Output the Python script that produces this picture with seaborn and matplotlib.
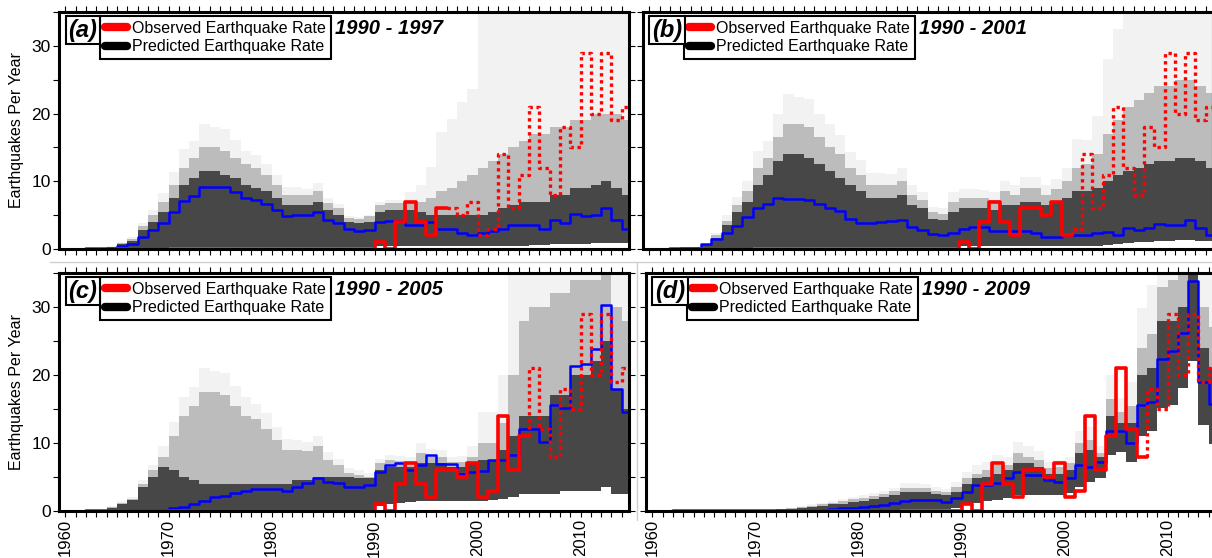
import numpy as np
import matplotlib
matplotlib.use("Agg")
import matplotlib.pyplot as plt
import seaborn as sns
from matplotlib.lines import Line2D
from matplotlib.ticker import MultipleLocator

sns.set_theme(style="ticks")
plt.rcParams["font.family"] = ["Liberation Sans", "DejaVu Sans"]
plt.rcParams["text.color"] = "black"
plt.rcParams["axes.labelcolor"] = "black"

# ---------------- data ----------------
years = np.arange(1960, 2015)

observed = [0, 0, 0, 0, 0, 0, 0, 0, 0, 0,
            0, 0, 0, 0, 0, 0, 0, 0, 0, 0,
            0, 0, 0, 0, 0, 0, 0, 0, 0, 0,
            1, 0, 4, 7, 4, 2, 6, 6, 5, 7,
            2, 3, 14, 6, 11, 21, 12, 8, 18, 15,
            29, 20, 29, 19, 21]
observed_start = 1962

titles = ["1990 - 1997", "1990 - 2001", "1990 - 2005", "1990 - 2009"]
panel_labels = ["(a)", "(b)", "(c)", "(d)"]
first_forecast_year = [1997, 2001, 2005, 2008]

# median predicted rate (blue)
median_a = [0, 0, 0, 0, 0.15, 0.45, 0.7, 1.7, 2.8, 3.9,
            5.4, 7.1, 7.8, 9.1, 9.1, 9.1, 8.4, 7.6, 7.3, 6.7,
            5.8, 4.8, 5.0, 5.0, 5.4, 4.3, 3.8, 2.9, 2.6, 2.8,
            4.0, 4.2, 4.2, 3.5, 3.5, 4.0, 3.0, 3.0, 2.4, 2.1,
            2.4, 2.7, 2.9, 3.5, 3.5, 3.5, 2.9, 4.3, 3.8, 5.2,
            4.8, 5.0, 6.0, 4.3, 2.9]
median_b = [0, 0, 0.05, 0.1, 0.2, 0.7, 1.5, 2.3, 3.4, 4.7,
            6.0, 6.6, 7.5, 7.4, 7.4, 7.3, 6.6, 6.0, 5.6, 4.5,
            3.9, 3.9, 4.0, 4.2, 4.3, 3.2, 2.8, 2.2, 2.0, 2.3,
            3.0, 3.3, 3.3, 2.6, 2.6, 2.6, 2.6, 2.3, 1.8, 1.8,
            2.1, 2.1, 2.1, 2.35, 2.5, 2.1, 3.1, 2.8, 3.1, 3.75,
            3.5, 3.6, 4.25, 3.1, 2.1]
median_c = [0, 0, 0, 0, 0.02, 0.05, 0.08, 0.1, 0.12, 0.15,
            0.4, 0.64, 1.03, 1.5, 2.0, 2.2, 2.6, 3.0, 3.2, 3.2,
            3.2, 3.0, 3.5, 4.1, 4.8, 4.2, 4.1, 3.6, 3.5, 3.8,
            5.7, 6.7, 7.0, 6.0, 6.8, 8.3, 6.9, 6.9, 5.5, 5.8,
            5.9, 7.5, 7.5, 8.3, 12.0, 12.0, 10.2, 15.6, 15.2, 21.3,
            21.6, 23.8, 30.3, 17.9, 14.5]
median_d = [0, 0, 0, 0, 0, 0.02, 0.02, 0.03, 0.03, 0.04,
            0.05, 0.06, 0.08, 0.1, 0.12, 0.15, 0.2, 0.3, 0.4, 0.5,
            0.6, 0.7, 0.9, 1.2, 1.4, 1.6, 1.6, 1.6, 1.3, 1.9,
            2.85, 3.8, 3.8, 4.1, 4.8, 5.7, 5.3, 5.3, 4.6, 4.3,
            4.8, 6.8, 6.4, 7.25, 11.8, 11.8, 10.0, 15.6, 16.1, 22.4,
            23.5, 26.2, 33.8, 18.9, 15.8]

# ensemble spread (grey): lowest, dense core top, moderate top, faint max
low_a = [0, 0, 0, 0, 0, 0, 0, 0, 0.1, 0.2,
         0.3, 0.3, 0.3, 0.3, 0.3, 0.3, 0.3, 0.3, 0.3, 0.3,
         0.3, 0.3, 0.3, 0.3, 0.3, 0.3, 0.3, 0.3, 0.3, 0.3,
         0.4, 0.4, 0.4, 0.4, 0.4, 0.4, 0.4, 0.4, 0.4, 0.4,
         0.4, 0.4, 0.4, 0.5, 0.5, 0.6, 0.6, 0.7, 0.7, 0.8,
         0.8, 0.9, 0.9, 0.9, 0.9]
core_a = [0, 0, 0, 0, 0.3, 0.7, 1.2, 2.8, 4.0, 5.5,
          7.5, 9.5, 10.5, 11.5, 11.5, 11.0, 10.5, 9.5, 9.0, 8.5,
          7.5, 6.5, 6.5, 6.5, 7.0, 5.8, 5.0, 4.0, 3.8, 4.0,
          5.5, 5.8, 5.8, 5.8, 5.5, 5.0, 5.0, 5.0, 5.0, 5.0,
          5.0, 5.5, 6.0, 6.5, 7.0, 7.0, 7.0, 8.0, 8.0, 9.0,
          9.0, 9.5, 10.0, 9.0, 8.0]
mid_a = [0, 0, 0, 0, 0.35, 0.9, 1.5, 3.4, 5.0, 7.0,
         9.5, 12.0, 13.5, 15.0, 15.0, 14.5, 13.5, 12.5, 12.0, 11.0,
         9.5, 8.0, 8.0, 8.0, 8.5, 6.8, 6.0, 4.6, 4.5, 4.8,
         6.5, 6.8, 6.8, 7.0, 7.0, 7.5, 8.5, 9.0, 10.0, 11.0,
         12, 13, 14, 15, 16, 17, 17, 18, 18, 19,
         19, 20, 20, 20, 19]
top_a = [0, 0, 0, 0, 0.4, 1.0, 1.7, 3.9, 5.8, 8.3,
         11.4, 14.7, 16.0, 18.4, 18.0, 17.7, 16.1, 14.5, 13.9, 12.6,
         10.9, 9.2, 9.1, 8.8, 9.8, 7.5, 6.6, 4.9, 4.7, 5.0,
         7.0, 7.3, 7.2, 8.4, 9.4, 12.1, 17.3, 19.2, 21.7, 23.6,
         40, 40, 40, 40, 40, 40, 40, 40, 40, 40,
         40, 40, 40, 40, 40]

low_b = [0, 0, 0, 0, 0, 0, 0, 0, 0.1, 0.2,
         0.3, 0.3, 0.3, 0.3, 0.3, 0.3, 0.3, 0.3, 0.3, 0.3,
         0.3, 0.3, 0.3, 0.3, 0.3, 0.3, 0.3, 0.3, 0.3, 0.3,
         0.4, 0.4, 0.4, 0.4, 0.4, 0.4, 0.4, 0.4, 0.4, 0.4,
         0.4, 0.4, 0.5, 0.5, 0.6, 0.7, 0.9, 1.0, 1.1, 1.2,
         1.2, 1.3, 1.3, 1.2, 1.2]
core_b = [0, 0, 0, 0, 0.2, 0.6, 1.6, 3.5, 5.5, 7.0,
          9.5, 11.0, 13.0, 14.0, 14.0, 13.5, 12.5, 11.5, 10.5, 9.5,
          8.5, 7.5, 7.5, 7.5, 8.0, 6.5, 6.0, 4.5, 4.3, 5.5,
          6.0, 6.0, 6.0, 5.8, 6.5, 6.5, 7.0, 7.0, 6.5, 7.0,
          7.5, 8.5, 8.5, 9.0, 10.0, 11.0, 11.5, 12.0, 12.5, 13.0,
          13.0, 13.5, 13.5, 13.0, 12.0]
mid_b = [0, 0, 0, 0, 0.25, 0.7, 2.0, 4.2, 6.5, 8.5,
         12.0, 13.5, 16.5, 18.5, 18.5, 18.0, 16.5, 15.0, 14.0, 12.0,
         11.0, 9.5, 9.5, 9.5, 10.0, 8.0, 7.2, 5.5, 5.2, 7.0,
         7.5, 7.5, 7.5, 7.2, 8.5, 8.0, 9.0, 9.0, 8.0, 8.8,
         10.0, 12.0, 12.5, 14.0, 17.0, 19.0, 21.0, 22.0, 23.0, 24.0,
         24, 25, 25, 24, 23]
top_b = [0, 0, 0, 0, 0.3, 0.8, 2.3, 5.0, 7.7, 10.1,
         14.5, 16.0, 20.0, 22.9, 22.5, 22.2, 19.9, 18.5, 16.8, 14.3,
         13.1, 11.2, 11.2, 11.1, 11.9, 9.4, 8.4, 6.2, 6.0, 8.4,
         8.9, 8.9, 8.7, 8.4, 10.1, 9.4, 10.6, 10.6, 9.4, 10.4,
         11.9, 16.3, 16.1, 19.7, 28.0, 32.5, 40, 40, 40, 40,
         40, 40, 40, 40, 40]

low_c = [0, 0, 0, 0, 0, 0, 0, 0, 0, 0,
         0, 0, 0, 0, 0, 0, 0, 0, 0, 0,
         0.1, 0.1, 0.1, 0.1, 0.1, 0.1, 0.1, 0.1, 0.1, 0.1,
         0.8, 1.0, 1.2, 1.3, 1.4, 1.5, 1.5, 1.5, 1.5, 1.5,
         1.5, 1.6, 1.8, 2.0, 2.5, 2.5, 2.5, 2.5, 3.0, 3.0,
         3.0, 3.0, 3.5, 2.5, 2.5]
core_c = [0, 0, 0, 0, 0.5, 1.0, 1.6, 3.5, 5.0, 6.5,
          6.0, 5.0, 4.5, 4.0, 4.0, 4.0, 4.0, 4.0, 4.0, 4.0,
          4.0, 4.0, 4.5, 4.5, 5.0, 5.0, 5.0, 5.0, 4.8, 4.8,
          6.0, 6.5, 6.5, 6.5, 7.0, 7.0, 7.0, 6.5, 6.5, 7.0,
          7.5, 7.5, 9.0, 11.0, 14.0, 14.0, 14.0, 17.0, 17.0, 20.0,
          20.0, 22.0, 25.0, 18.0, 15.0]
mid_c = [0, 0, 0, 0, 0.6, 1.2, 1.8, 4.0, 6.0, 8.0,
         11.0, 14.0, 15.5, 17.5, 17.5, 17.0, 15.5, 14.0, 13.5, 12.0,
         10.5, 9.0, 9.0, 8.8, 9.5, 7.5, 6.8, 5.6, 5.3, 5.0,
         7.0, 7.5, 7.3, 7.2, 8.5, 8.0, 8.0, 7.2, 7.2, 8.0,
         10.0, 10.0, 13.0, 20.0, 28.0, 30.0, 30.0, 32.0, 32.0, 34.0,
         34.0, 34.0, 35.0, 30.0, 28.0]
top_c = [0, 0, 0, 0, 0.7, 1.4, 2.0, 4.6, 6.8, 9.5,
         13.1, 16.8, 18.3, 21.0, 20.6, 20.3, 18.4, 16.7, 15.8, 14.4,
         12.4, 10.6, 10.5, 10.2, 11.0, 8.7, 7.7, 6.3, 6.0, 5.6,
         7.7, 8.3, 8.1, 8.0, 10.0, 9.1, 9.0, 8.0, 8.1, 9.5,
         14.6, 14.6, 20.0, 40, 40, 40, 40, 40, 40, 40,
         40, 40, 40, 40, 40]

low_d = [0, 0, 0, 0, 0, 0, 0, 0, 0, 0,
         0, 0, 0, 0, 0, 0, 0, 0, 0, 0,
         0.1, 0.1, 0.2, 0.2, 0.3, 0.3, 0.3, 0.3, 0.3, 0.4,
         0.9, 1.15, 1.4, 1.6, 1.9, 2.4, 2.4, 2.4, 2.4, 2.4,
         2.6, 3.6, 4.3, 4.8, 8.2, 8.7, 7.25, 11.0, 11.7, 15.1,
         15.6, 18.1, 22.0, 12.7, 9.8]
core_d = [0, 0, 0, 0, 0, 0.01, 0.02, 0.03, 0.04, 0.05,
          0.06, 0.1, 0.2, 0.3, 0.45, 0.6, 0.8, 1.0, 1.1, 1.3,
          1.5, 1.7, 2.0, 2.3, 2.8, 2.8, 2.8, 2.5, 2.3, 2.8,
          4.0, 4.8, 5.0, 5.5, 6.0, 7.0, 7.0, 6.5, 5.5, 5.5,
          6.0, 8.5, 9.0, 8.0, 14.0, 13.0, 13.0, 20.0, 21.0, 28.0,
          28.0, 30.0, 36.0, 24.0, 21.0]
mid_d = [0, 0, 0, 0, 0, 0.02, 0.03, 0.04, 0.05, 0.06,
         0.08, 0.15, 0.25, 0.4, 0.6, 0.8, 1.0, 1.2, 1.4, 1.7,
         1.9, 2.2, 2.5, 2.9, 3.4, 3.4, 3.4, 3.0, 2.8, 3.5,
         4.8, 5.5, 6.0, 6.8, 6.8, 8.5, 8.0, 7.5, 6.3, 6.5,
         7.0, 10.0, 10.5, 8.5, 16.5, 14.5, 15.5, 24.0, 26.0, 33.0,
         34.0, 36.0, 40.0, 30.0, 27.0]
top_d = [0, 0, 0, 0, 0, 0.02, 0.03, 0.04, 0.05, 0.07,
         0.1, 0.2, 0.3, 0.5, 0.7, 1.0, 1.2, 1.4, 1.7, 2.0,
         2.3, 2.6, 3.0, 3.4, 4.1, 4.1, 4.0, 3.6, 3.3, 4.2,
         5.8, 6.8, 7.25, 8.2, 8.0, 10.2, 9.5, 8.8, 7.25, 7.5,
         8.0, 11.7, 12.4, 9.5, 20.0, 16.6, 19.0, 29.8, 33.2, 40,
         40, 40, 40, 40, 40]

y_ticks = [0, 10, 20, 30]
x_ticks = [1960, 1970, 1980, 1990, 2000, 2010]
legend_labels = ["Observed Earthquake Rate", "Predicted Earthquake Rate"]
y_label = "Earthquakes Per Year"

# ---------------- layout ----------------
W, H = 1212, 558
fig = plt.figure(figsize=(W / 100, H / 100), dpi=100)


def rect(l, t, r, b):
    return [l / W, 1 - b / H, (r - l) / W, (b - t) / H]


rects = [rect(59, 12, 629, 249), rect(643, 12, 1213, 249),
         rect(59, 273, 629, 511), rect(646, 273, 1216, 511)]
medians = [median_a, median_b, median_c, median_d]
lows = [low_a, low_b, low_c, low_d]
cores = [core_a, core_b, core_c, core_d]
mids = [mid_a, mid_b, mid_c, mid_d]
tops = [top_a, top_b, top_c, top_d]

edges = np.append(years, years[-1] + 1)
obs = np.array(observed, dtype=float)


def hold(v):
    v = np.asarray(v, dtype=float)
    return np.append(v, v[-1])


# figure separators (sub-figure borders)
fig.add_artist(Line2D([50 / W, 1], [1 - 262 / H] * 2, color="#cfcfcf", lw=1))
fig.add_artist(Line2D([637 / W] * 2, [1 - 262 / H, 1 - 520 / H], color="#cfcfcf", lw=1))

for i in range(4):
    ax = fig.add_axes(rects[i])
    lo, co, mi, tp = hold(lows[i]), hold(cores[i]), hold(mids[i]), hold(tops[i])
    ax.fill_between(edges, lo, tp, step="post", color="black", alpha=0.05, lw=0)
    ax.fill_between(edges, lo, mi, step="post", color="black", alpha=0.22, lw=0)
    ax.fill_between(edges, lo, co, step="post", color="black", alpha=0.62, lw=0)

    sns.lineplot(x=edges, y=hold(medians[i]), drawstyle="steps-post", color="#0000ff",
                 lw=1.8, estimator=None, sort=False, ax=ax)

    E = first_forecast_year[i]
    s0 = observed_start - 1960
    e0 = E - 1960
    xs = np.append(years[s0:e0], E)
    ys = np.append(obs[s0:e0], obs[e0 - 1])
    sns.lineplot(x=xs, y=ys, drawstyle="steps-post", color="#ff0000", lw=2.6,
                 estimator=None, sort=False, ax=ax)
    xd = np.concatenate([[E], edges[e0:]])
    yd = np.concatenate([[obs[e0 - 1]], obs[e0:], [obs[-1]]])
    sns.lineplot(x=xd, y=yd, drawstyle="steps-post", color="#ff0000", lw=2.4,
                 linestyle=(0, (1, 1.1)), estimator=None, sort=False, ax=ax)

    ax.set_xlim(1959.37, 2014.7)
    ax.set_ylim(0, 35)
    ax.set_xticks(x_ticks)
    ax.xaxis.set_minor_locator(MultipleLocator(1))
    ax.set_yticks(y_ticks)
    ax.yaxis.set_minor_locator(MultipleLocator(5))
    ax.tick_params(which="both", direction="out", top=True, right=True, bottom=True,
                   left=True, length=4, width=0.8, color="black", labelcolor="black", pad=2)
    ax.tick_params(axis="x", labelsize=12)
    ax.tick_params(axis="y", labelsize=12.5)
    for sp in ax.spines.values():
        sp.set_linewidth(2.2)
        sp.set_color("black")
        sp.set_visible(True)
    if i < 2:
        ax.set_xticklabels([])
    else:
        ax.set_xticklabels([str(t) for t in x_ticks], rotation=90)
    if i % 2 == 1:
        ax.set_yticklabels([])
        ax.set_ylabel("")
    else:
        ax.set_ylabel(y_label, fontsize=11.5, labelpad=5, color="black")
    ax.set_xlabel("")

    handles = [Line2D([], [], color="#ff0000", lw=6, solid_capstyle="round"),
               Line2D([], [], color="black", lw=6, solid_capstyle="round")]
    leg = ax.legend(handles, legend_labels, loc="upper left", bbox_to_anchor=(0.072, 0.983),
                    frameon=True, fancybox=False, edgecolor="black", framealpha=1,
                    fontsize=11.5, handlelength=1.4, handletextpad=0.3,
                    labelspacing=0.22, borderpad=0.3, borderaxespad=0, labelcolor="black")
    leg.get_frame().set_linewidth(1.5)
    ax.text(0.042, 0.924, panel_labels[i], transform=ax.transAxes, fontsize=17,
            fontweight="bold", style="italic", ha="center", va="center", zorder=10,
            color="black",
            bbox=dict(boxstyle="square,pad=0.12", fc="white", ec="black", lw=1.5))
    ax.text(0.484, 0.932, titles[i], transform=ax.transAxes, fontsize=14.5,
            fontweight="bold", style="italic", ha="left", va="center", zorder=10,
            color="black")

fig.savefig("out.png", dpi=100)
